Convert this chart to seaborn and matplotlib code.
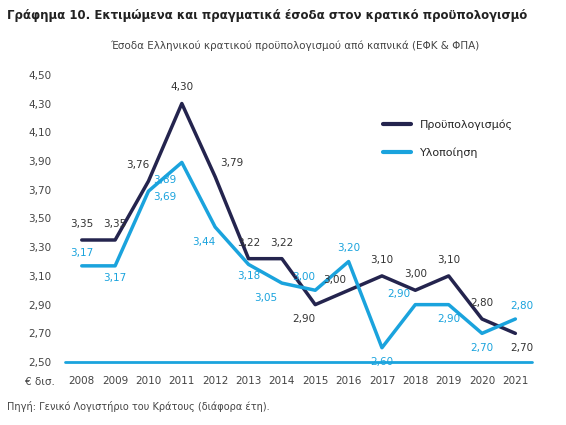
import matplotlib
matplotlib.use("Agg")
import matplotlib.pyplot as plt
import seaborn as sns
import pandas as pd

years = list(range(2008, 2022))
budget = [3.35, 3.35, 3.76, 4.30, 3.79, 3.22, 3.22, 2.90, 3.00, 3.10, 3.00, 3.10, 2.80, 2.70]
actual = [3.17, 3.17, 3.69, 3.89, 3.44, 3.18, 3.05, 3.00, 3.20, 2.60, 2.90, 2.90, 2.70, 2.80]
yticks = [2.5 + 0.2 * i for i in range(11)]

sns.set_theme(style="white")
plt.rcParams['font.family'] = ['DejaVu Sans']
NAVY, CYAN = "#24244e", "#1aa3dd"

fig = plt.figure(figsize=(5.66, 4.25), dpi=100)
ax = fig.add_axes([0.115, 0.148, 0.825, 0.676])
df = pd.DataFrame({"year": years, "Προϋπολογισμός": budget, "Υλοποίηση": actual})
sns.lineplot(data=df, x="year", y="Προϋπολογισμός", color=NAVY, lw=2.5, ax=ax)
sns.lineplot(data=df, x="year", y="Υλοποίηση", color=CYAN, lw=2.5, ax=ax)

fmt = lambda v: f"{v:.2f}".replace(".", ",")
boff = [(0, 8), (0, 8), (-8, 8), (0, 8), (12, 6), (0, 8), (0, 8), (-8, -14), (-10, 4), (0, 8), (0, 8), (0, 8), (0, 8), (5, -14)]
aoff = [(0, 6), (0, -12), (12, -8), (-12, -16), (-8, -14), (0, -12), (-12, -14), (-8, 6), (0, 6), (0, -14), (-12, 4), (0, -14), (0, -14), (5, 6)]
for x, v, o in zip(years, budget, boff):
    ax.annotate(fmt(v), (x, v), xytext=o, textcoords="offset points", ha="center", va="bottom", fontsize=7.5, color="#333333")
for x, v, o in zip(years, actual, aoff):
    ax.annotate(fmt(v), (x, v), xytext=o, textcoords="offset points", ha="center", va="bottom", fontsize=7.5, color=CYAN)

ax.set_ylim(2.5, 4.5)
ax.set_yticks(yticks)
ax.set_yticklabels([fmt(t) for t in yticks], fontsize=7.5, color="#444444")
ax.set_xlim(2007.5, 2021.5)
ax.set_xticks(years)
ax.set_xticklabels([str(y) for y in years], fontsize=7.5, color="#444444")
ax.set_xlabel(""); ax.set_ylabel("")
for s in ax.spines.values():
    s.set_visible(False)
ax.axhline(2.5, color=CYAN, lw=2, clip_on=False, zorder=5)
ax.tick_params(length=0, pad=10)

ax.plot([], [], color=NAVY, lw=3, label="Προϋπολογισμός")
ax.plot([], [], color=CYAN, lw=3, label="Υλοποίηση")
h, l = ax.get_legend_handles_labels()
ax.legend(h[-2:], l[-2:], loc="upper right", bbox_to_anchor=(0.98, 0.88), frameon=False, fontsize=8, handlelength=2.5, labelspacing=1.6)

fig.text(0.012, 0.955, "Γράφημα 10. Εκτιμώμενα και πραγματικά έσοδα στον κρατικό προϋπολογισμό", fontsize=8.5, fontweight="bold", color="#222222")
fig.text(0.52, 0.885, "Έσοδα Ελληνικού κρατικού προϋπολογισμού από καπνικά (ΕΦΚ & ΦΠΑ)", fontsize=7.5, ha="center", color="#444444")
fig.text(0.045, 0.095, "€ δισ.", fontsize=7.5, color="#444444")
fig.text(0.012, 0.035, "Πηγή: Γενικό Λογιστήριο του Κράτους (διάφορα έτη).", fontsize=7, color="#444444")
fig.savefig("out.png", dpi=100)
